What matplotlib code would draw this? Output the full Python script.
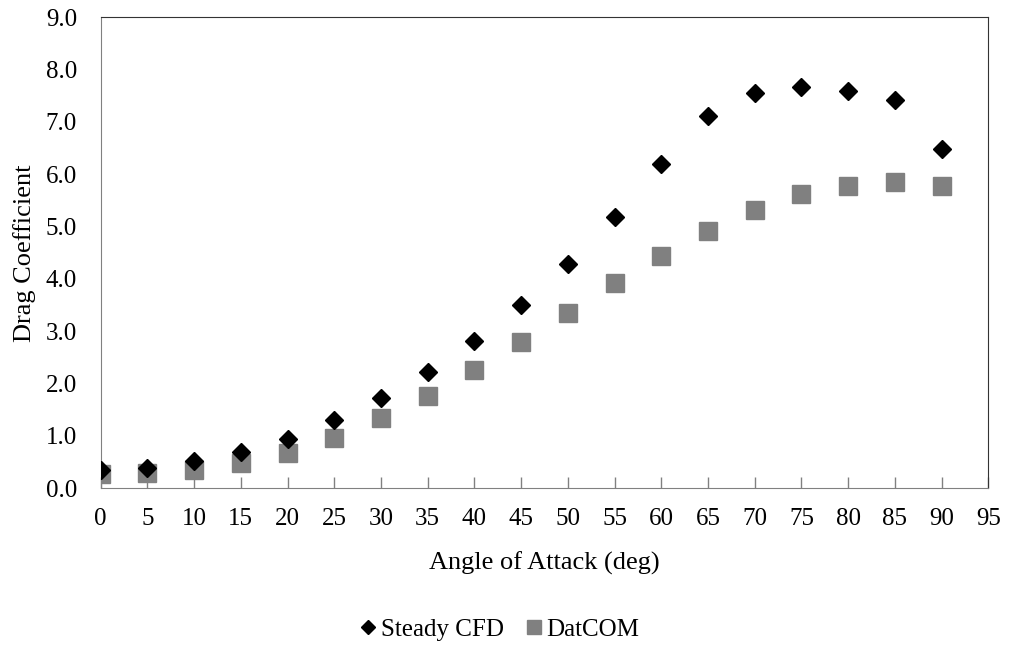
import matplotlib.pyplot as plt
from matplotlib.ticker import MultipleLocator, FormatStrFormatter

# ------------------------------------------------------------
# Data

angles = [0, 5, 10, 15, 20, 25, 30, 35, 40, 45, 50, 55, 60, 65, 70, 75, 80, 85, 90]

steady_cfd = [0.35, 0.39, 0.52, 0.69, 0.95, 1.30, 1.72, 2.23, 2.82, 3.50,
              4.28, 5.18, 6.19, 7.12, 7.55, 7.66, 7.59, 7.42, 6.48]

datcom = [0.27, 0.30, 0.35, 0.48, 0.67, 0.97, 1.34, 1.77, 2.26, 2.80,
          3.35, 3.93, 4.44, 4.92, 5.32, 5.62, 5.78, 5.85, 5.78]

x_ticks = list(range(0, 100, 5))

# ------------------------------------------------------------
# Figure

plt.rcParams['font.family'] = ['Liberation Serif', 'DejaVu Serif']

fig = plt.figure(figsize=(10.11, 6.48), dpi=100)
ax = fig.add_axes([0.0996, 0.2465, 0.8779, 0.7268])

ax.plot(angles, datcom, linestyle="none", marker="s", markersize=13,
        color="#808080", label="DatCOM", zorder=2)
ax.plot(angles, steady_cfd, linestyle="none", marker="D", markersize=9.2,
        color="black", label="Steady CFD", zorder=3)

ax.set_xlim(0, 95)
ax.set_ylim(0, 9)
ax.set_xticks(x_ticks)
ax.yaxis.set_major_locator(MultipleLocator(1.0))
ax.yaxis.set_major_formatter(FormatStrFormatter("%.1f"))

ax.tick_params(axis="x", direction="in", length=8, width=1, color="#808080",
               labelsize=18, pad=14)
ax.tick_params(axis="y", length=0, labelsize=18, pad=17)

for side in ["left", "bottom"]:
    ax.spines[side].set_color("#808080")
for side in ["top", "right"]:
    ax.spines[side].set_color("#333333")

ax.set_xlabel("Angle of Attack (deg)", fontsize=19, labelpad=16)
ax.set_ylabel("Drag Coefficient", fontsize=19, labelpad=7)

handles, labels = ax.get_legend_handles_labels()
fig.legend(handles[::-1], labels[::-1], loc="center", bbox_to_anchor=(0.492, 0.028),
           ncol=2, frameon=False, fontsize=18, handletextpad=0.0,
           columnspacing=0.7, handlelength=1.0, markerscale=0.8)

plt.savefig("out.png", dpi=100)
